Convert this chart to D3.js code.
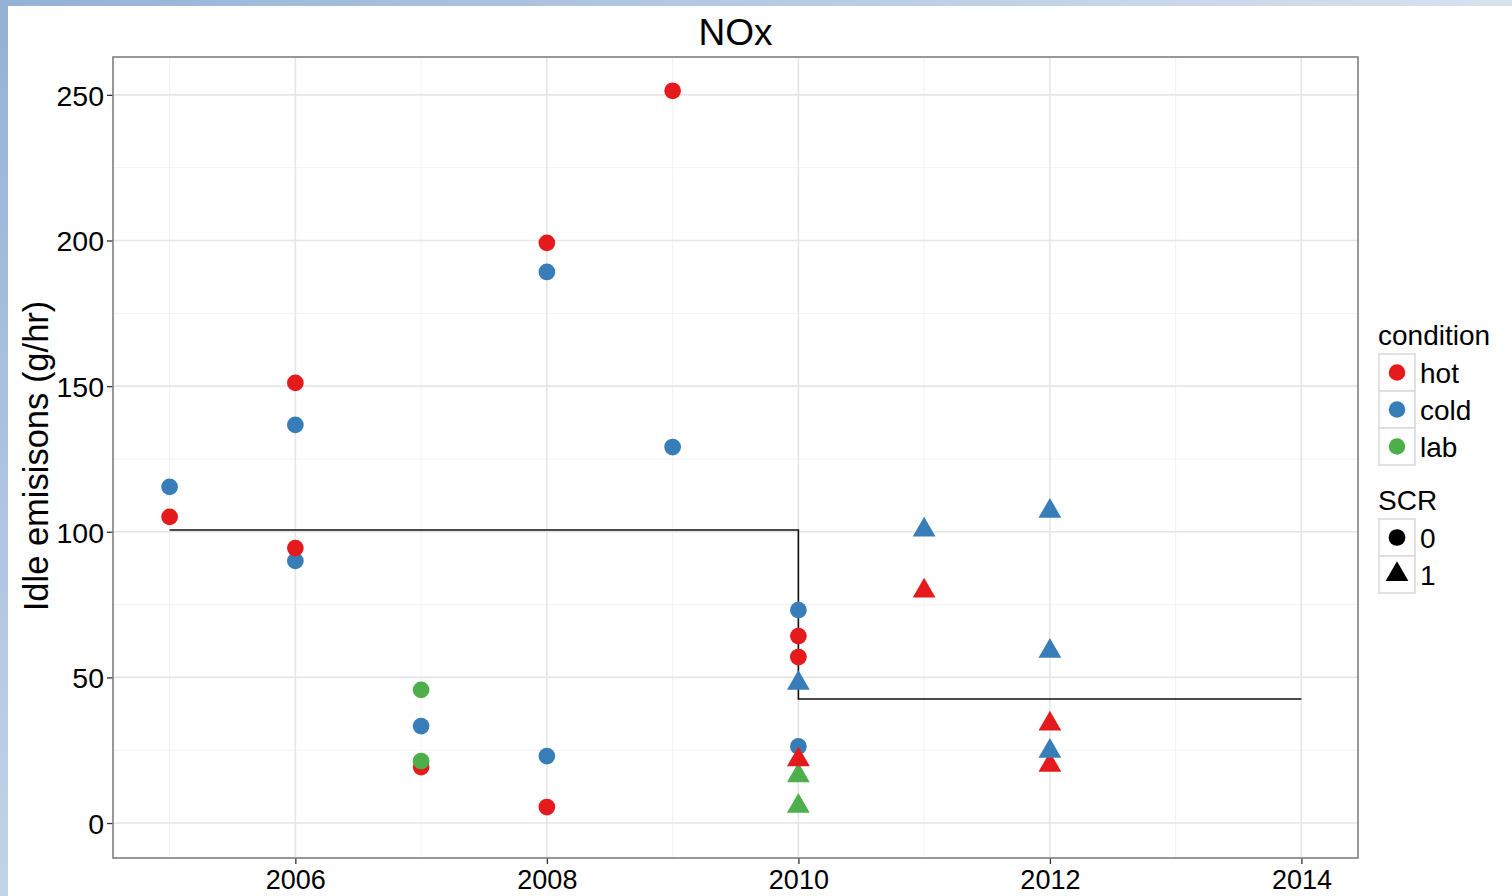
<!DOCTYPE html>
<html>
<head>
<meta charset="utf-8">
<script src="https://d3js.org/d3.v7.min.js"></script>
<style>
	body { margin: 0; background: #fff; }
	svg { display: block; font-family: 'Liberation Sans', Arial, sans-serif; }
</style>
</head>
<body>
<svg class="chart" width="1512" height="896"></svg>
<script>
/** DATA **/
// one entry per point, in drawing order
let years = [2005, 2005, 2006, 2006, 2006, 2006, 2007, 2007, 2007, 2007,
	2008, 2008, 2008, 2008, 2009, 2009, 2010, 2010, 2010, 2010,
	2010, 2010, 2010, 2010, 2011, 2011, 2012, 2012, 2012, 2012, 2012];
let emissions = [115.4, 105.1, 136.7, 90, 151.1, 94.4, 33.3, 19.2, 45.7, 21.3,
	189.2, 23, 199.2, 5.5, 251.4, 129.1, 73.1, 26.3, 64.2, 57,
	48, 16.3, 5.8, 21.8, 100.6, 79.7, 107.1, 59, 34, 19.9, 24.7];
let conditions = ['cold', 'hot', 'cold', 'cold', 'hot', 'hot', 'cold', 'hot', 'lab', 'lab',
	'cold', 'cold', 'hot', 'hot', 'hot', 'cold', 'cold', 'cold', 'hot', 'hot',
	'cold', 'lab', 'lab', 'hot', 'cold', 'hot', 'cold', 'cold', 'hot', 'hot', 'cold'];
let scr = [0, 0, 0, 0, 0, 0, 0, 0, 0, 0,
	0, 0, 0, 0, 0, 0, 0, 0, 0, 0,
	1, 1, 1, 1, 1, 1, 1, 1, 1, 1, 1];

// mean step line
let stepYears = [2005, 2010, 2014];
let stepValues = [100.6, 42.6, 42.6];

let conditionLevels = ['hot', 'cold', 'lab'];
let conditionColors = ['#e41a1c', '#377eb8', '#4daf4a'];
let scrLevels = ['0', '1'];

let xTicks = [2006, 2008, 2010, 2012, 2014];
let xMinor = [2005, 2007, 2009, 2011, 2013];
let yTicks = [0, 50, 100, 150, 200, 250];
let yMinor = [25, 75, 125, 175, 225];

/** CONSTANTS **/
let panel = { left: 113, right: 1358, top: 57, bottom: 858 };

let x = d3.scaleLinear().domain([2004.55, 2014.45]).range([panel.left, panel.right]);
let y = d3.scaleLinear().domain([-12, 263]).range([panel.bottom, panel.top]);
let color = d3.scaleOrdinal().domain(conditionLevels).range(conditionColors);
let shape = d3.scaleOrdinal().domain(scrLevels).range([d3.symbolCircle, d3.symbolTriangle]);
let symbolSize = { '0': 220, '1': 225 };

let svg = d3.select('.chart');

// slide frame
let defs = svg.append('defs');
let gTop = defs.append('linearGradient').attr('id', 'frameTop');
gTop.append('stop').attr('offset', '0%').attr('stop-color', '#94b2d6');
gTop.append('stop').attr('offset', '100%').attr('stop-color', '#d8e2ef');
let gLeft = defs.append('linearGradient').attr('id', 'frameLeft')
	.attr('x1', 0).attr('y1', 0).attr('x2', 0).attr('y2', 1);
gLeft.append('stop').attr('offset', '0%').attr('stop-color', '#94b2d6');
gLeft.append('stop').attr('offset', '100%').attr('stop-color', '#c3d3e8');
svg.append('rect').attr('x', 0).attr('y', 0).attr('width', 1512).attr('height', 6).attr('fill', 'url(#frameTop)');
svg.append('rect').attr('x', 0).attr('y', 0).attr('width', 8).attr('height', 896).attr('fill', 'url(#frameLeft)');

/** GRID **/
let grid = svg.append('g');
grid.selectAll('.vminor').data(xMinor).enter().append('line')
	.attr('x1', d => x(d)).attr('x2', d => x(d))
	.attr('y1', panel.top).attr('y2', panel.bottom)
	.style('stroke', '#f2f2f2').style('stroke-width', 1);
grid.selectAll('.hminor').data(yMinor).enter().append('line')
	.attr('y1', d => y(d)).attr('y2', d => y(d))
	.attr('x1', panel.left).attr('x2', panel.right)
	.style('stroke', '#f2f2f2').style('stroke-width', 1);
grid.selectAll('.vmajor').data(xTicks).enter().append('line')
	.attr('x1', d => x(d)).attr('x2', d => x(d))
	.attr('y1', panel.top).attr('y2', panel.bottom)
	.style('stroke', '#e6e6e6').style('stroke-width', 1.6);
grid.selectAll('.hmajor').data(yTicks).enter().append('line')
	.attr('y1', d => y(d)).attr('y2', d => y(d))
	.attr('x1', panel.left).attr('x2', panel.right)
	.style('stroke', '#e6e6e6').style('stroke-width', 1.6);

/** AXES **/
let xAxis = svg.append('g')
	.attr('transform', 'translate(0,' + panel.bottom + ')')
	.call(d3.axisBottom(x).tickValues(xTicks).tickFormat(d3.format('d')).tickSize(6).tickPadding(6));
let yAxis = svg.append('g')
	.attr('transform', 'translate(' + panel.left + ',0)')
	.call(d3.axisLeft(y).tickValues(yTicks).tickSize(6).tickPadding(3));
[xAxis, yAxis].forEach(function(a) {
	a.select('.domain').remove();
	a.selectAll('line').style('stroke', '#333').style('stroke-width', 1.3);
	a.selectAll('text').style('fill', '#000').style('font-family', 'Liberation Sans, Arial, sans-serif');
});
xAxis.selectAll('text').style('font-size', '27px');
yAxis.selectAll('text').style('font-size', '28.5px').attr('dy', '0.36em');

/** STEP LINE **/
let line = d3.line()
	.x(d => x(d[0]))
	.y(d => y(d[1]))
	.curve(d3.curveStepAfter);
svg.append('path')
	.datum(d3.zip(stepYears, stepValues))
	.attr('d', line)
	.style('fill', 'none')
	.style('stroke', '#111')
	.style('stroke-width', 1.6);

/** POINTS **/
svg.append('g').selectAll('path')
	.data(d3.range(years.length))
	.enter()
	.append('path')
	.attr('transform', i => 'translate(' + x(years[i]) + ',' + y(emissions[i]) + ')')
	.attr('d', i => d3.symbol().type(shape(String(scr[i]))).size(symbolSize[scr[i]])())
	.style('fill', i => color(conditions[i]));

/** PANEL BORDER **/
svg.append('rect')
	.attr('x', panel.left).attr('y', panel.top)
	.attr('width', panel.right - panel.left).attr('height', panel.bottom - panel.top)
	.style('fill', 'none').style('stroke', '#7f7f7f').style('stroke-width', 1.6);

/** TITLES **/
svg.append('text')
	.attr('x', (panel.left + panel.right) / 2)
	.attr('y', 45)
	.attr('text-anchor', 'middle')
	.style('font-size', '37px')
	.text('NOx');

svg.append('text')
	.attr('transform', 'translate(48,456) rotate(-90)')
	.attr('text-anchor', 'middle')
	.style('font-size', '34.5px')
	.text('Idle emisisons (g/hr)');

/** LEGEND **/
function createLegend(title, levels, top, drawKey) {
	let lg = svg.append('g').attr('transform', 'translate(1379,' + top + ')');
	lg.append('text')
		.attr('x', -1).attr('y', -9)
		.style('font-size', '28px')
		.text(title);
	let item = lg.selectAll('.item').data(levels).enter().append('g')
		.attr('transform', (d, i) => 'translate(0,' + (i * 37) + ')');
	item.append('rect')
		.attr('width', 36).attr('height', 37)
		.style('fill', '#fff').style('stroke', '#d9d9d9').style('stroke-width', 1.5);
	item.append('path')
		.attr('transform', 'translate(18,18.5)')
		.attr('d', drawKey)
		.style('fill', d => title === 'SCR' ? '#000' : color(d));
	item.append('text')
		.attr('x', 41).attr('y', 29)
		.style('font-size', '28px')
		.text(d => d);
}
createLegend('condition', conditionLevels, 354, d => d3.symbol().type(d3.symbolCircle).size(215)());
createLegend('SCR', scrLevels, 519, d => d3.symbol().type(shape(d)).size(symbolSize[d])());
</script>
</body>
</html>
